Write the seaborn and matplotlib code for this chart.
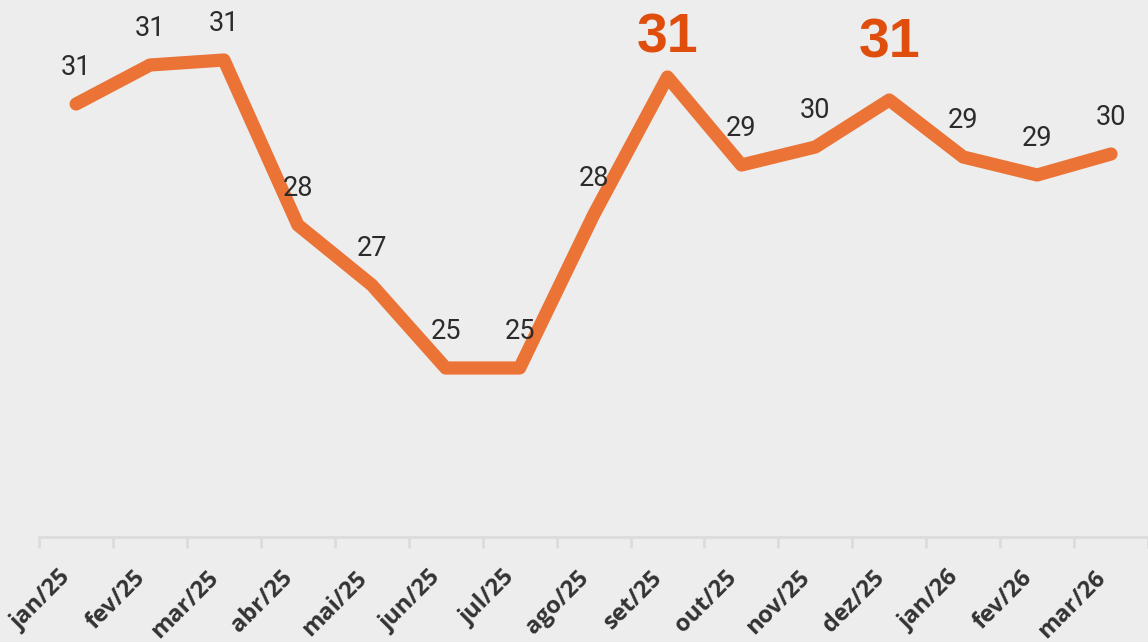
import numpy as np
import pandas as pd
import matplotlib
matplotlib.use('Agg')
import matplotlib.pyplot as plt
import matplotlib.transforms as mtransforms
import seaborn as sns

months = ['jan/25', 'fev/25', 'mar/25', 'abr/25', 'mai/25', 'jun/25', 'jul/25', 'ago/25',
          'set/25', 'out/25', 'nov/25', 'dez/25', 'jan/26', 'fev/26', 'mar/26']
values = [30.53, 31.31, 31.41, 28.11, 26.91, 25.25, 25.25, 28.31,
          31.07, 29.31, 29.67, 30.61, 29.47, 29.11, 29.53]
highlight = ['set/25', 'dez/25']

df = pd.DataFrame({'pos': np.arange(len(months)), 'month': months, 'value': values})

bg = '#EDEDED'
line_color = '#EA7335'
hl_color = '#E04E0E'
axis_color = '#DCDCDC'
# how far the big labels sit above their point (points)
big_lift = {'set/25': 28, 'dez/25': 41}

sns.set_style('white')
plt.rcParams['font.family'] = ['Roboto', 'DejaVu Sans']

fig = plt.figure(figsize=(11.48, 6.42), dpi=100, facecolor=bg)
ax = fig.add_axes([0, 105 / 642, 1, 537 / 642])
ax.set_facecolor(bg)

sns.lineplot(data=df, x='pos', y='value', ax=ax, color=line_color, linewidth=9.5,
             solid_capstyle='round', solid_joinstyle='round')

# value labels above each point, the two peaks are emphasised
for _, r in df.iterrows():
    if r['month'] in highlight:
        ax.annotate(f"{r['value']:.0f}", (r['pos'], r['value']), xytext=(0, big_lift[r['month']]),
                    textcoords='offset points', ha='center', va='center',
                    fontsize=40, fontweight='bold', color=hl_color,
                    family=['Liberation Sans', 'DejaVu Sans'])
    else:
        ax.annotate(f"{r['value']:.0f}", (r['pos'], r['value']), xytext=(0, 26),
                    textcoords='offset points', ha='center', va='center',
                    fontsize=19.5, color='#2B2B2B')

step = 74.8
ax.set_xlim(-77 / step, (1148 - 77) / step)
ax.set_ylim(21.87, 32.61)

ax.set_xticks(df['pos'])
ax.set_xticklabels(months, rotation=45, ha='right', fontsize=17, fontweight='bold',
                   color='#333333', family=['Open Sans', 'DejaVu Sans'])
shift = mtransforms.ScaledTranslation(4 / 72, 0, fig.dpi_scale_trans)
for lab in ax.get_xticklabels():
    lab.set_transform(lab.get_transform() + shift)
ax.set_xticks(np.arange(-0.5, len(months)), minor=True)
ax.tick_params(axis='x', which='major', bottom=True, length=0, pad=21)
ax.tick_params(axis='x', which='minor', bottom=True, length=8, width=2, color=axis_color, direction='out')
ax.set_yticks([])
ax.set_xlabel('')
ax.set_ylabel('')

sns.despine(ax=ax, left=True, top=True, right=True)
ax.spines['bottom'].set_color(axis_color)
ax.spines['bottom'].set_linewidth(2)
ax.spines['bottom'].set_bounds(-0.5, len(months) - 0.5)

fig.savefig('out.png', dpi=100, facecolor=bg)
